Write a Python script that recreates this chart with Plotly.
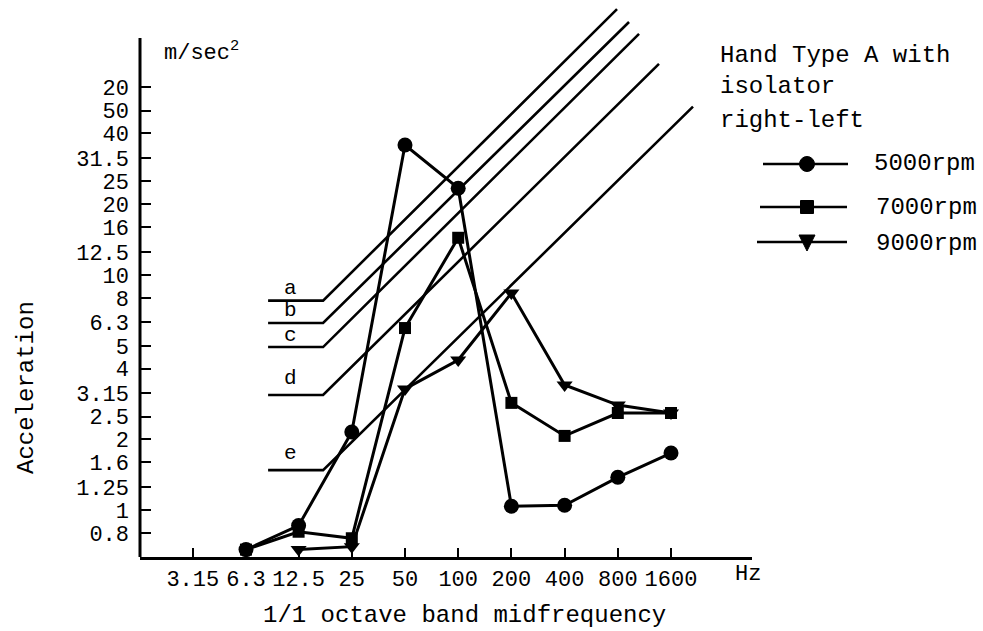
import math
import plotly.graph_objects as go

# ---- data ----
freq = [6.3, 12.5, 25, 50, 100, 200, 400, 800, 1600]
acc_5000 = [0.68, 0.86, 2.15, 35.7, 23.4, 1.04, 1.05, 1.38, 1.75]
acc_7000 = [0.68, 0.81, 0.76, 5.95, 14.4, 2.86, 2.07, 2.59, 2.59]
freq_9000 = [12.5, 25, 50, 100, 200, 400, 800, 1600]
acc_9000 = [0.68, 0.70, 3.28, 4.35, 8.38, 3.41, 2.80, 2.59]

x_tickvals = [3.15, 6.3, 12.5, 25, 50, 100, 200, 400, 800, 1600]
x_ticktext = ["3.15", "6.3", "12.5", "25", "50", "100", "200", "400", "800", "1600"]
y_tickvals = [0.8, 1, 1.25, 1.6, 2, 2.5, 3.15, 4, 5, 6.3, 8, 10, 12.5, 16, 20, 25, 31.5, 40, 50, 63]
y_ticktext = ["0.8", "1", "1.25", "1.6", "2", "2.5", "3.15", "4", "5", "6.3", "8", "10", "12.5",
              "16", "20", "25", "31.5", "40", "50", "20"]

# reference limit curves a-e
ref_names = ["a", "b", "c", "d", "e"]
ref_levels = [7.78, 6.25, 4.94, 3.09, 1.48]
ref_start_f = 8.4
ref_knee_f = 17.2
ref_end_f = [792, 926, 1055, 1368, 2131]
ref_end_a = [135, 119, 106, 79, 52]

FONT = "Courier New, Liberation Mono, monospace"
W, H = 983, 631
L, R, T, B = 140, 231, 0, 74
PW, PH = W - L - R, H - T - B
label_shift = [0, 0, -1, 4, 4]


def px(xp):
    return (xp - L) / PW


def py(yp):
    return (H - B - yp) / PH


fig = go.Figure()

for name, lv, ef, ea, sh in zip(ref_names, ref_levels, ref_end_f, ref_end_a, label_shift):
    fig.add_trace(go.Scatter(x=[ref_start_f, ref_knee_f, ef], y=[lv, lv, ea], mode="lines",
                             line=dict(color="black", width=2.6), showlegend=False, hoverinfo="skip"))
    fig.add_annotation(x=math.log10(11.3), y=math.log10(lv), xref="x", yref="y", text=name,
                       showarrow=False, yanchor="bottom", yshift=sh, borderpad=0,
                       font=dict(family=FONT, size=21, color="black"))

series = [
    (freq, acc_5000, "circle", 15, "5000rpm"),
    (freq, acc_7000, "square", 12, "7000rpm"),
    (freq_9000, acc_9000, "triangle-down", 14, "9000rpm"),
]
for xs, ys, sym, sz, nm in series:
    fig.add_trace(go.Scatter(x=xs, y=ys, mode="lines+markers", name=nm,
                             line=dict(color="black", width=3),
                             marker=dict(symbol=sym, size=sz, color="black"),
                             showlegend=False))

shapes = []
# y axis line (stops below the top of the plotting area)
shapes.append(dict(type="line", xref="paper", yref="paper", x0=0, x1=0, y0=0, y1=py(38),
                   line=dict(color="black", width=3)))

# hand-drawn legend keys
lk = [(763, 848, 164), (760, 847, 207), (757, 847, 242)]
for x0, x1, yy in lk:
    shapes.append(dict(type="line", xref="paper", yref="paper", x0=px(x0), x1=px(x1), y0=py(yy), y1=py(yy),
                       line=dict(color="black", width=2.5)))
shapes.append(dict(type="circle", xref="paper", yref="paper", x0=px(807 - 7.5), x1=px(807 + 7.5),
                   y0=py(164 + 7.5), y1=py(164 - 7.5), fillcolor="black", line=dict(color="black", width=1)))
shapes.append(dict(type="rect", xref="paper", yref="paper", x0=px(807 - 6.5), x1=px(807 + 6.5),
                   y0=py(207 + 6.5), y1=py(207 - 6.5), fillcolor="black", line=dict(color="black", width=1)))
tri = "M {} {} L {} {} L {} {} Z".format(px(799), py(235), px(815), py(235), px(807), py(251))
shapes.append(dict(type="path", xref="paper", yref="paper", path=tri, fillcolor="black",
                   line=dict(color="black", width=1)))

ann_font = dict(family=FONT, size=24, color="black")
texts = [
    ("Hand Type A with", 718, 55),
    ("isolator", 718, 87),
    ("right-left", 718, 120),
    ("5000rpm", 872, 163),
    ("7000rpm", 874, 207),
    ("9000rpm", 874, 243),
]
for t, xx, yy in texts:
    fig.add_annotation(x=px(xx), y=py(yy), xref="paper", yref="paper", text=t, showarrow=False,
                       xanchor="left", yanchor="middle", font=ann_font)

fig.add_annotation(x=px(162), y=py(52), xref="paper", yref="paper", text="m/sec<sup>2</sup>",
                   showarrow=False, xanchor="left", yanchor="middle",
                   font=dict(family=FONT, size=22, color="black"))
fig.add_annotation(x=px(733), y=py(574), xref="paper", yref="paper", text="Hz", showarrow=False,
                   xanchor="left", yanchor="middle", font=dict(family=FONT, size=22, color="black"))
fig.add_annotation(x=px(26), y=py(388), xref="paper", yref="paper", text="Acceleration", showarrow=False,
                   textangle=-90, xanchor="center", yanchor="middle", font=ann_font)
fig.add_annotation(x=px(464), y=py(615), xref="paper", yref="paper", text="1/1 octave band midfrequency",
                   showarrow=False, xanchor="center", yanchor="middle", font=ann_font)

tick_font = dict(family=FONT, size=22, color="black")
fig.update_layout(
    width=W, height=H, autosize=False,
    margin=dict(l=L, r=R, t=T, b=B, pad=0),
    paper_bgcolor="white", plot_bgcolor="white",
    shapes=shapes,
    xaxis=dict(type="log", range=[0.1995, 3.6624], tickvals=x_tickvals, ticktext=x_ticktext,
               ticks="inside", ticklen=9, tickwidth=2, tickcolor="black",
               showline=True, linewidth=3, linecolor="black", showgrid=False, zeroline=False,
               tickfont=tick_font, ticklabelstandoff=0, fixedrange=True),
    yaxis=dict(type="log", range=[-0.1989, 2.1693], tickvals=y_tickvals, ticktext=y_ticktext,
               ticks="inside", ticklen=11, tickwidth=2, tickcolor="black",
               showline=False, showgrid=False, zeroline=False,
               tickfont=tick_font, ticklabelstandoff=10, fixedrange=True),
    showlegend=False,
)

fig.write_html("out.html")
